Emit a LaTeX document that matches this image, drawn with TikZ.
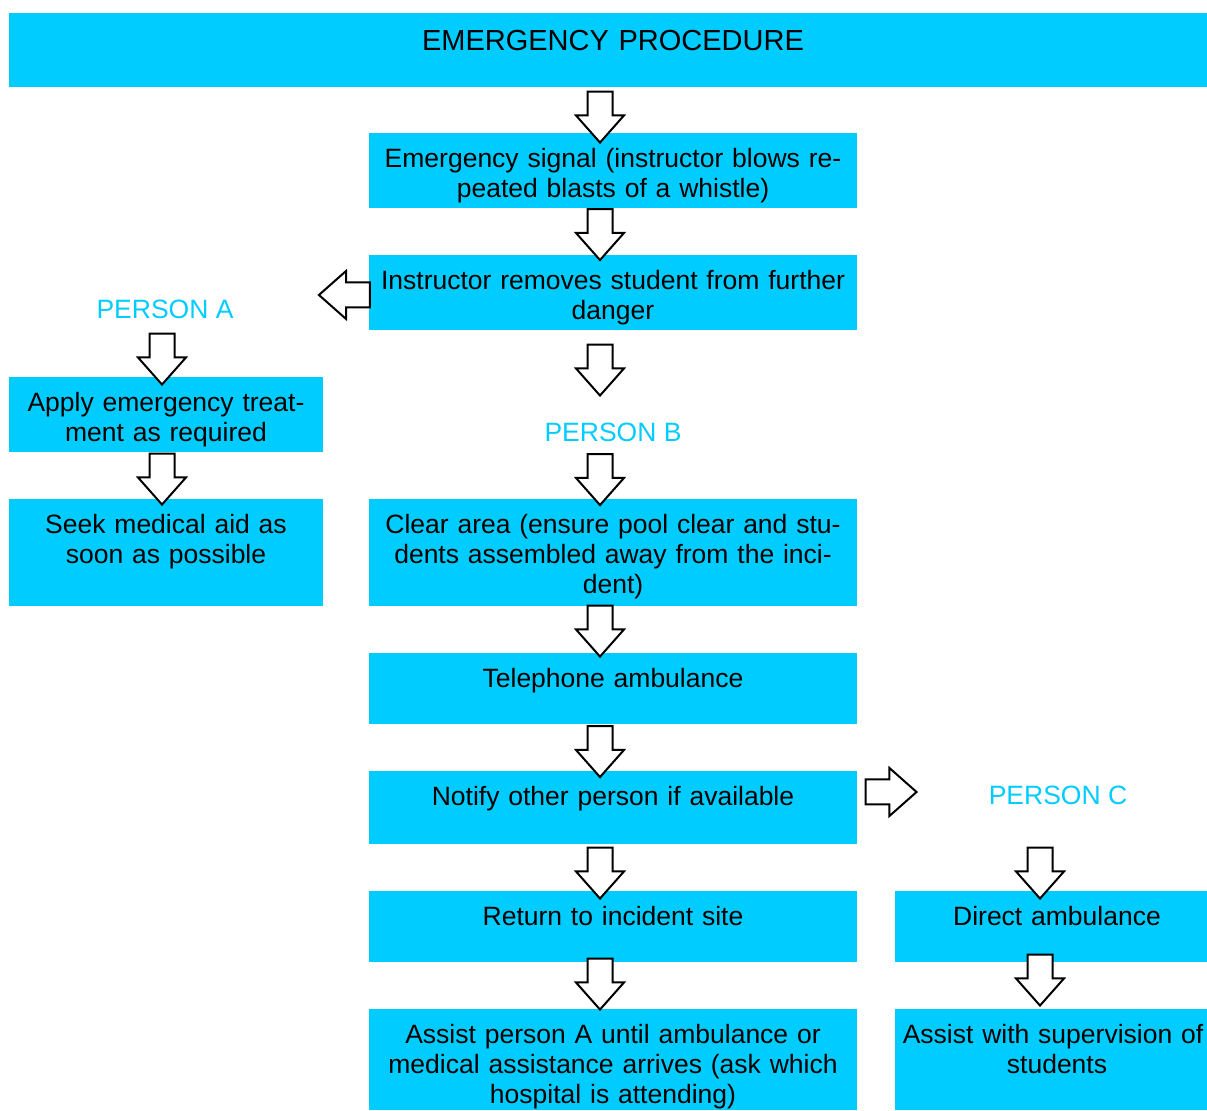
\documentclass[tikz,border=0pt]{standalone}
\usepackage{fontspec}
\setmainfont{Liberation Sans}
\usetikzlibrary{shapes.arrows, positioning, calc}
\definecolor{boxcyan}{HTML}{00CCFF}

\begin{document}
\begin{tikzpicture}[
    x=0.5pt, y=-0.5pt,
    box/.style={fill=boxcyan, inner sep=0pt, outer sep=0pt, align=center, text height=17.5pt, font=\fontsize{13.25pt}{15pt}\selectfont},
    mainbox/.style={box, text width=244pt},
    person/.style={anchor=base, inner sep=0pt, text=boxcyan, font=\fontsize{13.25pt}{15pt}\selectfont},
    blockarrow/.style={single arrow, draw=black, fill=white, line width=1pt, inner sep=5.75pt, minimum height=25.5pt, single arrow head extend=5.75pt, single arrow tip angle=83, anchor=center},
    downarrow/.style={blockarrow, shape border rotate=270, yshift=3.5pt}
]
    \useasboundingbox (0,0) rectangle (1207,1111);

    % Title
    \node[box, anchor=north west, text width=599pt, text height=19pt, text depth=18pt, font=\fontsize{14.5pt}{15pt}\selectfont] (title) at (9,13) {\hspace*{5pt}EMERGENCY PROCEDURE};

    % Main column
    \node[mainbox, below=23pt of title, xshift=2.5pt, text depth=20pt] (signal) {Emergency signal (instructor blows re-\\peated blasts of a whistle)};
    \node[mainbox, below=23.5pt of signal, text depth=20pt] (remove) {Instructor removes student from further\\danger};

    % Person A
    \node[box, below left=23.5pt and 23pt of remove, text width=157pt, text depth=20pt] (treat) {Apply emergency treat-\\ment as required};
    \node[box, below=23.5pt of treat, text width=157pt, text depth=36pt] (seek) {Seek medical aid as\\soon as possible};
    \node[person] (personA) at ([shift={(-1,-58)}]treat.north) {PERSON A};

    % Person B
    \node[mainbox, below=84.5pt of remove, text depth=36pt] (clear) {Clear area (ensure pool clear and stu-\\dents assembled away from the inci-\\dent)};
    \node[person] (personB) at ([shift={(0,-57)}]clear.north) {PERSON B};
    \node[mainbox, below=23.5pt of clear, text depth=18pt] (phone) {Telephone ambulance};
    \node[mainbox, below=23.5pt of phone, text depth=19pt] (notify) {Notify other person if available};
    \node[mainbox, below=23.5pt of notify, text depth=18pt] (return) {Return to incident site};
    \node[mainbox, below=23.5pt of return, text depth=33pt] (assistA) {Assist person A until ambulance or\\medical assistance arrives (ask which\\hospital is attending)};

    % Person C
    \node[box, right=19pt of return, text width=156pt, text depth=18pt] (direct) {\hspace*{6pt}Direct ambulance};
    \node[box, below=23.5pt of direct, text width=156pt, text depth=33pt] (supervise) {\mbox{\hspace*{2pt}Assist with supervision of}\\\hspace*{6pt}students};
    \node[person] (personC) at ([shift={(7,-86)}]direct.north) {PERSON C};

    % Block arrows
    \node[downarrow] (a1) at ($(title.south -| signal.north)!0.5!(signal.north)+(-13,7)$) {};
    \node[downarrow] (a2) at ($(signal.south)!0.5!(remove.north)+(-13,3)$) {};
    \node[downarrow] (a3) at ([shift={(-13,40)}]remove.south) {};
    \node[downarrow] (a4) at ([shift={(-13,-19.5)}]clear.north) {};
    \node[downarrow] (a5) at ($(clear.south)!0.5!(phone.north)+(-13,1.5)$) {};
    \node[downarrow] (a6) at ($(phone.south)!0.5!(notify.north)+(-13,4)$) {};
    \node[downarrow] (a7) at ($(notify.south)!0.5!(return.north)+(-13,5.5)$) {};
    \node[downarrow] (a8) at ($(return.south)!0.5!(assistA.north)+(-13,-1.5)$) {};
    \node[downarrow] (aA1) at ([shift={(-4,-18)}]treat.north) {};
    \node[downarrow] (aA2) at ($(treat.south)!0.5!(seek.north)+(-4,3.5)$) {};
    \node[downarrow] (aC1) at ([shift={(-11,-18)}]direct.north) {};
    \node[downarrow] (aC2) at ($(direct.south)!0.5!(supervise.north)+(-11,-5.5)$) {};
    \node[blockarrow, shape border rotate=180, xshift=3.5pt] (toA) at ([shift={(-24.5,2.5)}]remove.west) {};
    \node[blockarrow, xshift=-3.5pt] (toC) at ([shift={(34,-15.5)}]notify.east) {};

\end{tikzpicture}
\end{document}
